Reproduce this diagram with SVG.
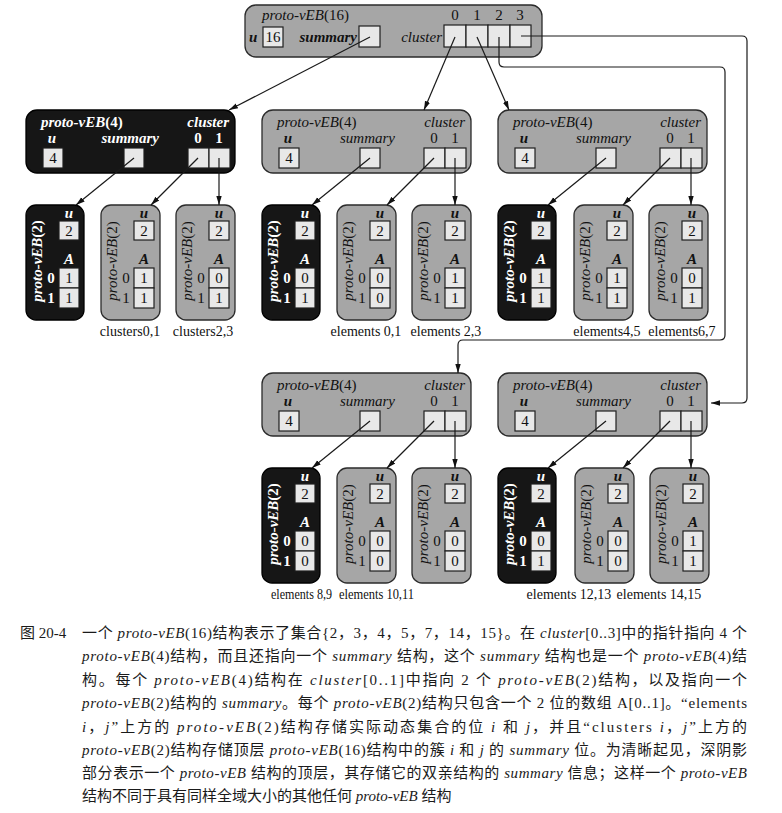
<svg xmlns="http://www.w3.org/2000/svg" width="782" height="813" viewBox="0 0 782 813">
  <style>
    .bg { fill: #ffffff; }
    .ng { fill: #a6a6a6; stroke: #2b2b2b; stroke-width: 1.3; }
    .nd { fill: #161616; stroke: #000000; stroke-width: 1.3; }
    .cell { fill: #e8e8e8; stroke: #1e1e1e; stroke-width: 1.2; }
    text { font-family: "Liberation Serif", serif; font-size: 15px; fill: #111; }
    .it { font-style: italic; }
    .b { font-weight: bold; }
    .w { fill: #ffffff; }
    .m { text-anchor: middle; }
    .e { text-anchor: end; }
    .sm { font-size: 14px; }
    .cap { font-family: "Liberation Serif", "Noto Sans CJK SC", serif; font-size: 15px; fill: #1a1a1a; }
    .wire { fill: none; stroke: #1a1a1a; stroke-width: 1.2; }
  </style>
  <defs>
    <marker id="ah" viewBox="0 0 10 10" refX="10" refY="5" markerWidth="9" markerHeight="9" markerUnits="userSpaceOnUse" orient="auto">
      <path d="M0,2 L10,5 L0,8 z" fill="#111"/>
    </marker>
  </defs>

  <rect class="bg" x="0" y="0" width="782" height="813"/>

  <!-- root: proto-vEB(16) -->
  <g id="veb16">
    <rect class="ng" x="245" y="5" width="297" height="52" rx="11"/>
    <text x="262" y="20"><tspan class="it">proto-vEB</tspan>(16)</text>
    <text x="249" y="42" class="it b">u</text>
    <rect class="cell" x="263" y="27" width="20" height="20"/>
    <text x="273" y="42" class="m">16</text>
    <text x="357" y="42" class="it b e">summary</text>
    <rect class="cell" x="359" y="26" width="21" height="21"/>
    <text x="442" y="42" class="it e">cluster</text>
    <rect class="cell" x="444" y="25" width="22" height="22"/>
    <rect class="cell" x="466" y="25" width="22" height="22"/>
    <rect class="cell" x="488" y="25" width="22" height="22"/>
    <rect class="cell" x="510" y="25" width="21" height="22"/>
    <text x="455" y="20" class="m">0</text>
    <text x="477" y="20" class="m">1</text>
    <text x="499" y="20" class="m">2</text>
    <text x="520" y="20" class="m">3</text>
  </g>

  <!-- summary of root: proto-vEB(4), dark -->
  <g id="veb4-summary" transform="translate(26,110)">
    <rect class="nd" x="0" y="0" width="209" height="63" rx="11"/>
    <text x="15" y="17" class="w b"><tspan class="it">proto-vEB</tspan>(4)</text>
    <text x="26" y="33" class="w it b m">u</text>
    <text x="133" y="33" class="w it b e">summary</text>
    <text x="203" y="17" class="w it b e">cluster</text>
    <text x="172" y="33" class="w b m">0</text>
    <text x="193" y="33" class="w b m">1</text>
    <rect class="cell" x="17" y="38" width="20" height="20"/>
    <text x="27" y="53" class="m">4</text>
    <rect class="cell" x="98" y="38" width="20" height="20"/>
    <rect class="cell" x="162" y="38" width="21" height="20"/>
    <rect class="cell" x="183" y="38" width="21" height="20"/>
  </g>

  <!-- cluster[0] of root -->
  <g id="veb4-c0" transform="translate(262,110)">
    <rect class="ng" x="0" y="0" width="209" height="63" rx="11"/>
    <text x="15" y="17"><tspan class="it">proto-vEB</tspan>(4)</text>
    <text x="26" y="33" class="it b m">u</text>
    <text x="133" y="33" class="it e">summary</text>
    <text x="203" y="17" class="it e">cluster</text>
    <text x="172" y="33" class="m">0</text>
    <text x="193" y="33" class="m">1</text>
    <rect class="cell" x="17" y="38" width="20" height="20"/>
    <text x="27" y="53" class="m">4</text>
    <rect class="cell" x="98" y="38" width="20" height="20"/>
    <rect class="cell" x="162" y="38" width="21" height="20"/>
    <rect class="cell" x="183" y="38" width="21" height="20"/>
  </g>

  <!-- cluster[1] of root -->
  <g id="veb4-c1" transform="translate(498,110)">
    <rect class="ng" x="0" y="0" width="209" height="63" rx="11"/>
    <text x="15" y="17"><tspan class="it">proto-vEB</tspan>(4)</text>
    <text x="26" y="33" class="it b m">u</text>
    <text x="133" y="33" class="it e">summary</text>
    <text x="203" y="17" class="it e">cluster</text>
    <text x="172" y="33" class="m">0</text>
    <text x="193" y="33" class="m">1</text>
    <rect class="cell" x="17" y="38" width="20" height="20"/>
    <text x="27" y="53" class="m">4</text>
    <rect class="cell" x="98" y="38" width="20" height="20"/>
    <rect class="cell" x="162" y="38" width="21" height="20"/>
    <rect class="cell" x="183" y="38" width="21" height="20"/>
  </g>

  <!-- cluster[2] of root -->
  <g id="veb4-c2" transform="translate(262,373)">
    <rect class="ng" x="0" y="0" width="209" height="63" rx="11"/>
    <text x="15" y="17"><tspan class="it">proto-vEB</tspan>(4)</text>
    <text x="26" y="33" class="it b m">u</text>
    <text x="133" y="33" class="it e">summary</text>
    <text x="203" y="17" class="it e">cluster</text>
    <text x="172" y="33" class="m">0</text>
    <text x="193" y="33" class="m">1</text>
    <rect class="cell" x="17" y="38" width="20" height="20"/>
    <text x="27" y="53" class="m">4</text>
    <rect class="cell" x="98" y="38" width="20" height="20"/>
    <rect class="cell" x="162" y="38" width="21" height="20"/>
    <rect class="cell" x="183" y="38" width="21" height="20"/>
  </g>

  <!-- cluster[3] of root -->
  <g id="veb4-c3" transform="translate(498,373)">
    <rect class="ng" x="0" y="0" width="209" height="63" rx="11"/>
    <text x="15" y="17"><tspan class="it">proto-vEB</tspan>(4)</text>
    <text x="26" y="33" class="it b m">u</text>
    <text x="133" y="33" class="it e">summary</text>
    <text x="203" y="17" class="it e">cluster</text>
    <text x="172" y="33" class="m">0</text>
    <text x="193" y="33" class="m">1</text>
    <rect class="cell" x="17" y="38" width="20" height="20"/>
    <text x="27" y="53" class="m">4</text>
    <rect class="cell" x="98" y="38" width="20" height="20"/>
    <rect class="cell" x="162" y="38" width="21" height="20"/>
    <rect class="cell" x="183" y="38" width="21" height="20"/>
  </g>

  <!-- proto-vEB(2) leaves: summary leaf is dark, the two cluster leaves are grey -->
  <!-- under summary proto-vEB(4) -->
  <g id="leaf-s-s" transform="translate(26,205)">
    <rect class="nd" x="0" y="0" width="58" height="115" rx="10"/>
    <text class="w b m" transform="translate(16,56) rotate(-90)"><tspan class="it">proto-vEB</tspan>(2)</text>
    <text x="43" y="13" class="w it b m">u</text>
    <rect class="cell" x="33" y="16" width="20" height="19"/><text x="43" y="31" class="m">2</text>
    <text x="43" y="59" class="w it b m">A</text>
    <rect class="cell" x="33" y="63" width="20" height="20"/><rect class="cell" x="33" y="83" width="20" height="20"/>
    <text x="25" y="78" class="w b m">0</text><text x="25" y="98" class="w b m">1</text>
    <text x="43" y="78" class="m">1</text><text x="43" y="98" class="m">1</text>
  </g>
  <g id="leaf-s-0" transform="translate(101,205)">
    <rect class="ng" x="0" y="0" width="59" height="115" rx="10"/>
    <text class="m" transform="translate(16,56) rotate(-90)"><tspan class="it">proto-vEB</tspan>(2)</text>
    <text x="43" y="13" class="it b m">u</text>
    <rect class="cell" x="33" y="16" width="20" height="19"/><text x="43" y="31" class="m">2</text>
    <text x="43" y="59" class="it b m">A</text>
    <rect class="cell" x="33" y="63" width="20" height="20"/><rect class="cell" x="33" y="83" width="20" height="20"/>
    <text x="25" y="78" class="m">0</text><text x="25" y="98" class="m">1</text>
    <text x="43" y="78" class="m">1</text><text x="43" y="98" class="m">1</text>
  </g>
  <g id="leaf-s-1" transform="translate(176,205)">
    <rect class="ng" x="0" y="0" width="59" height="115" rx="10"/>
    <text class="m" transform="translate(16,56) rotate(-90)"><tspan class="it">proto-vEB</tspan>(2)</text>
    <text x="43" y="13" class="it b m">u</text>
    <rect class="cell" x="33" y="16" width="20" height="19"/><text x="43" y="31" class="m">2</text>
    <text x="43" y="59" class="it b m">A</text>
    <rect class="cell" x="33" y="63" width="20" height="20"/><rect class="cell" x="33" y="83" width="20" height="20"/>
    <text x="25" y="78" class="m">0</text><text x="25" y="98" class="m">1</text>
    <text x="43" y="78" class="m">0</text><text x="43" y="98" class="m">1</text>
  </g>

  <!-- under cluster[0] -->
  <g id="leaf-0-s" transform="translate(262,205)">
    <rect class="nd" x="0" y="0" width="58" height="115" rx="10"/>
    <text class="w b m" transform="translate(16,56) rotate(-90)"><tspan class="it">proto-vEB</tspan>(2)</text>
    <text x="43" y="13" class="w it b m">u</text>
    <rect class="cell" x="33" y="16" width="20" height="19"/><text x="43" y="31" class="m">2</text>
    <text x="43" y="59" class="w it b m">A</text>
    <rect class="cell" x="33" y="63" width="20" height="20"/><rect class="cell" x="33" y="83" width="20" height="20"/>
    <text x="25" y="78" class="w b m">0</text><text x="25" y="98" class="w b m">1</text>
    <text x="43" y="78" class="m">0</text><text x="43" y="98" class="m">1</text>
  </g>
  <g id="leaf-0-0" transform="translate(337,205)">
    <rect class="ng" x="0" y="0" width="59" height="115" rx="10"/>
    <text class="m" transform="translate(16,56) rotate(-90)"><tspan class="it">proto-vEB</tspan>(2)</text>
    <text x="43" y="13" class="it b m">u</text>
    <rect class="cell" x="33" y="16" width="20" height="19"/><text x="43" y="31" class="m">2</text>
    <text x="43" y="59" class="it b m">A</text>
    <rect class="cell" x="33" y="63" width="20" height="20"/><rect class="cell" x="33" y="83" width="20" height="20"/>
    <text x="25" y="78" class="m">0</text><text x="25" y="98" class="m">1</text>
    <text x="43" y="78" class="m">0</text><text x="43" y="98" class="m">0</text>
  </g>
  <g id="leaf-0-1" transform="translate(412,205)">
    <rect class="ng" x="0" y="0" width="59" height="115" rx="10"/>
    <text class="m" transform="translate(16,56) rotate(-90)"><tspan class="it">proto-vEB</tspan>(2)</text>
    <text x="43" y="13" class="it b m">u</text>
    <rect class="cell" x="33" y="16" width="20" height="19"/><text x="43" y="31" class="m">2</text>
    <text x="43" y="59" class="it b m">A</text>
    <rect class="cell" x="33" y="63" width="20" height="20"/><rect class="cell" x="33" y="83" width="20" height="20"/>
    <text x="25" y="78" class="m">0</text><text x="25" y="98" class="m">1</text>
    <text x="43" y="78" class="m">1</text><text x="43" y="98" class="m">1</text>
  </g>

  <!-- under cluster[1] -->
  <g id="leaf-1-s" transform="translate(498,205)">
    <rect class="nd" x="0" y="0" width="58" height="115" rx="10"/>
    <text class="w b m" transform="translate(16,56) rotate(-90)"><tspan class="it">proto-vEB</tspan>(2)</text>
    <text x="43" y="13" class="w it b m">u</text>
    <rect class="cell" x="33" y="16" width="20" height="19"/><text x="43" y="31" class="m">2</text>
    <text x="43" y="59" class="w it b m">A</text>
    <rect class="cell" x="33" y="63" width="20" height="20"/><rect class="cell" x="33" y="83" width="20" height="20"/>
    <text x="25" y="78" class="w b m">0</text><text x="25" y="98" class="w b m">1</text>
    <text x="43" y="78" class="m">1</text><text x="43" y="98" class="m">1</text>
  </g>
  <g id="leaf-1-0" transform="translate(574,205)">
    <rect class="ng" x="0" y="0" width="59" height="115" rx="10"/>
    <text class="m" transform="translate(16,56) rotate(-90)"><tspan class="it">proto-vEB</tspan>(2)</text>
    <text x="43" y="13" class="it b m">u</text>
    <rect class="cell" x="33" y="16" width="20" height="19"/><text x="43" y="31" class="m">2</text>
    <text x="43" y="59" class="it b m">A</text>
    <rect class="cell" x="33" y="63" width="20" height="20"/><rect class="cell" x="33" y="83" width="20" height="20"/>
    <text x="25" y="78" class="m">0</text><text x="25" y="98" class="m">1</text>
    <text x="43" y="78" class="m">1</text><text x="43" y="98" class="m">1</text>
  </g>
  <g id="leaf-1-1" transform="translate(649,205)">
    <rect class="ng" x="0" y="0" width="59" height="115" rx="10"/>
    <text class="m" transform="translate(16,56) rotate(-90)"><tspan class="it">proto-vEB</tspan>(2)</text>
    <text x="43" y="13" class="it b m">u</text>
    <rect class="cell" x="33" y="16" width="20" height="19"/><text x="43" y="31" class="m">2</text>
    <text x="43" y="59" class="it b m">A</text>
    <rect class="cell" x="33" y="63" width="20" height="20"/><rect class="cell" x="33" y="83" width="20" height="20"/>
    <text x="25" y="78" class="m">0</text><text x="25" y="98" class="m">1</text>
    <text x="43" y="78" class="m">0</text><text x="43" y="98" class="m">1</text>
  </g>

  <!-- under cluster[2] -->
  <g id="leaf-2-s" transform="translate(262,468)">
    <rect class="nd" x="0" y="0" width="58" height="115" rx="10"/>
    <text class="w b m" transform="translate(16,56) rotate(-90)"><tspan class="it">proto-vEB</tspan>(2)</text>
    <text x="43" y="13" class="w it b m">u</text>
    <rect class="cell" x="33" y="16" width="20" height="19"/><text x="43" y="31" class="m">2</text>
    <text x="43" y="59" class="w it b m">A</text>
    <rect class="cell" x="33" y="63" width="20" height="20"/><rect class="cell" x="33" y="83" width="20" height="20"/>
    <text x="25" y="78" class="w b m">0</text><text x="25" y="98" class="w b m">1</text>
    <text x="43" y="78" class="m">0</text><text x="43" y="98" class="m">0</text>
  </g>
  <g id="leaf-2-0" transform="translate(337,468)">
    <rect class="ng" x="0" y="0" width="59" height="115" rx="10"/>
    <text class="m" transform="translate(16,56) rotate(-90)"><tspan class="it">proto-vEB</tspan>(2)</text>
    <text x="43" y="13" class="it b m">u</text>
    <rect class="cell" x="33" y="16" width="20" height="19"/><text x="43" y="31" class="m">2</text>
    <text x="43" y="59" class="it b m">A</text>
    <rect class="cell" x="33" y="63" width="20" height="20"/><rect class="cell" x="33" y="83" width="20" height="20"/>
    <text x="25" y="78" class="m">0</text><text x="25" y="98" class="m">1</text>
    <text x="43" y="78" class="m">0</text><text x="43" y="98" class="m">0</text>
  </g>
  <g id="leaf-2-1" transform="translate(412,468)">
    <rect class="ng" x="0" y="0" width="59" height="115" rx="10"/>
    <text class="m" transform="translate(16,56) rotate(-90)"><tspan class="it">proto-vEB</tspan>(2)</text>
    <text x="43" y="13" class="it b m">u</text>
    <rect class="cell" x="33" y="16" width="20" height="19"/><text x="43" y="31" class="m">2</text>
    <text x="43" y="59" class="it b m">A</text>
    <rect class="cell" x="33" y="63" width="20" height="20"/><rect class="cell" x="33" y="83" width="20" height="20"/>
    <text x="25" y="78" class="m">0</text><text x="25" y="98" class="m">1</text>
    <text x="43" y="78" class="m">0</text><text x="43" y="98" class="m">0</text>
  </g>

  <!-- under cluster[3] -->
  <g id="leaf-3-s" transform="translate(498,468)">
    <rect class="nd" x="0" y="0" width="58" height="115" rx="10"/>
    <text class="w b m" transform="translate(16,56) rotate(-90)"><tspan class="it">proto-vEB</tspan>(2)</text>
    <text x="43" y="13" class="w it b m">u</text>
    <rect class="cell" x="33" y="16" width="20" height="19"/><text x="43" y="31" class="m">2</text>
    <text x="43" y="59" class="w it b m">A</text>
    <rect class="cell" x="33" y="63" width="20" height="20"/><rect class="cell" x="33" y="83" width="20" height="20"/>
    <text x="25" y="78" class="w b m">0</text><text x="25" y="98" class="w b m">1</text>
    <text x="43" y="78" class="m">0</text><text x="43" y="98" class="m">1</text>
  </g>
  <g id="leaf-3-0" transform="translate(575,468)">
    <rect class="ng" x="0" y="0" width="59" height="115" rx="10"/>
    <text class="m" transform="translate(16,56) rotate(-90)"><tspan class="it">proto-vEB</tspan>(2)</text>
    <text x="43" y="13" class="it b m">u</text>
    <rect class="cell" x="33" y="16" width="20" height="19"/><text x="43" y="31" class="m">2</text>
    <text x="43" y="59" class="it b m">A</text>
    <rect class="cell" x="33" y="63" width="20" height="20"/><rect class="cell" x="33" y="83" width="20" height="20"/>
    <text x="25" y="78" class="m">0</text><text x="25" y="98" class="m">1</text>
    <text x="43" y="78" class="m">0</text><text x="43" y="98" class="m">0</text>
  </g>
  <g id="leaf-3-1" transform="translate(650,468)">
    <rect class="ng" x="0" y="0" width="59" height="115" rx="10"/>
    <text class="m" transform="translate(16,56) rotate(-90)"><tspan class="it">proto-vEB</tspan>(2)</text>
    <text x="43" y="13" class="it b m">u</text>
    <rect class="cell" x="33" y="16" width="20" height="19"/><text x="43" y="31" class="m">2</text>
    <text x="43" y="59" class="it b m">A</text>
    <rect class="cell" x="33" y="63" width="20" height="20"/><rect class="cell" x="33" y="83" width="20" height="20"/>
    <text x="25" y="78" class="m">0</text><text x="25" y="98" class="m">1</text>
    <text x="43" y="78" class="m">1</text><text x="43" y="98" class="m">1</text>
  </g>

  <!-- leaf captions -->
  <g id="leaf-labels">
    <text x="130" y="336" class="m sm">clusters0,1</text>
    <text x="203" y="336" class="m sm">clusters2,3</text>
    <text x="366" y="336" class="m sm">elements 0,1</text>
    <text x="446" y="336" class="m sm">elements 2,3</text>
    <text x="607" y="336" class="m sm">elements4,5</text>
    <text x="682" y="336" class="m sm">elements6,7</text>
    <text x="271" y="599" class="sm" textLength="61" lengthAdjust="spacingAndGlyphs">elements 8,9</text>
    <text x="339" y="599" class="sm" textLength="75" lengthAdjust="spacingAndGlyphs">elements 10,11</text>
    <text x="569" y="599" class="m sm">elements 12,13</text>
    <text x="659" y="599" class="m sm">elements 14,15</text>
  </g>

  <!-- pointers -->
  <g id="connectors" class="wire" marker-end="url(#ah)">
    <path d="M370,37 L229,110"/>
    <path d="M455,37 L424,110"/>
    <path d="M477,37 L509,110"/>
    <path d="M499,37 V62 Q499,67 504,67 H720 Q725,67 725,72 V335 Q725,340 720,340 H463 Q458,340 458,345 V373"/>
    <path d="M521,36 H742 Q747,36 747,41 V398 Q747,403 742,403 H711"/>

    <path d="M134,158 L76,205"/>
    <path d="M198,158 L151,205"/>
    <path d="M219,158 V205"/>

    <path d="M370,158 L312,205"/>
    <path d="M434,158 L387,205"/>
    <path d="M455,158 V205"/>

    <path d="M606,158 L548,205"/>
    <path d="M670,158 L623,205"/>
    <path d="M691,158 V205"/>

    <path d="M370,421 L312,468"/>
    <path d="M434,421 L387,468"/>
    <path d="M455,421 V468"/>

    <path d="M606,421 L548,468"/>
    <path d="M670,421 L623,468"/>
    <path d="M691,421 V468"/>
  </g>

  <!-- figure caption -->
  <g id="caption">
    <text class="cap" x="20" y="638">图 20-4</text>
    <text class="cap" x="82" y="638" textLength="665" lengthAdjust="spacing">一个 <tspan class="it">proto-vEB</tspan>(16)结构表示了集合{2，3，4，5，7，14，15}。在 <tspan class="it">cluster</tspan>[0..3]中的指针指向 4 个</text>
    <text class="cap" x="82" y="661" textLength="665" lengthAdjust="spacing"><tspan class="it">proto-vEB</tspan>(4)结构，而且还指向一个 <tspan class="it">summary</tspan> 结构，这个 <tspan class="it">summary</tspan> 结构也是一个 <tspan class="it">proto-vEB</tspan>(4)结</text>
    <text class="cap" x="82" y="685" textLength="665" lengthAdjust="spacing">构。每个 <tspan class="it">proto-vEB</tspan>(4)结构在 <tspan class="it">cluster</tspan>[0..1]中指向 2 个 <tspan class="it">proto-vEB</tspan>(2)结构，以及指向一个</text>
    <text class="cap" x="82" y="708" textLength="665" lengthAdjust="spacing"><tspan class="it">proto-vEB</tspan>(2)结构的 <tspan class="it">summary</tspan>。每个 <tspan class="it">proto-vEB</tspan>(2)结构只包含一个 2 位的数组 A[0..1]。“elements</text>
    <text class="cap" x="82" y="732" textLength="665" lengthAdjust="spacing"><tspan class="it">i</tspan>，<tspan class="it">j</tspan>”上方的 <tspan class="it">proto-vEB</tspan>(2)结构存储实际动态集合的位 <tspan class="it">i</tspan> 和 <tspan class="it">j</tspan>，并且“clusters <tspan class="it">i</tspan>，<tspan class="it">j</tspan>”上方的</text>
    <text class="cap" x="82" y="755" textLength="665" lengthAdjust="spacing"><tspan class="it">proto-vEB</tspan>(2)结构存储顶层 <tspan class="it">proto-vEB</tspan>(16)结构中的簇 <tspan class="it">i</tspan> 和 <tspan class="it">j</tspan> 的 <tspan class="it">summary</tspan> 位。为清晰起见，深阴影</text>
    <text class="cap" x="82" y="778" textLength="665" lengthAdjust="spacing">部分表示一个 <tspan class="it">proto-vEB</tspan> 结构的顶层，其存储它的双亲结构的 <tspan class="it">summary</tspan> 信息；这样一个 <tspan class="it">proto-vEB</tspan></text>
    <text class="cap" x="82" y="801">结构不同于具有同样全域大小的其他任何 <tspan class="it">proto-vEB</tspan> 结构</text>
  </g>
</svg>
